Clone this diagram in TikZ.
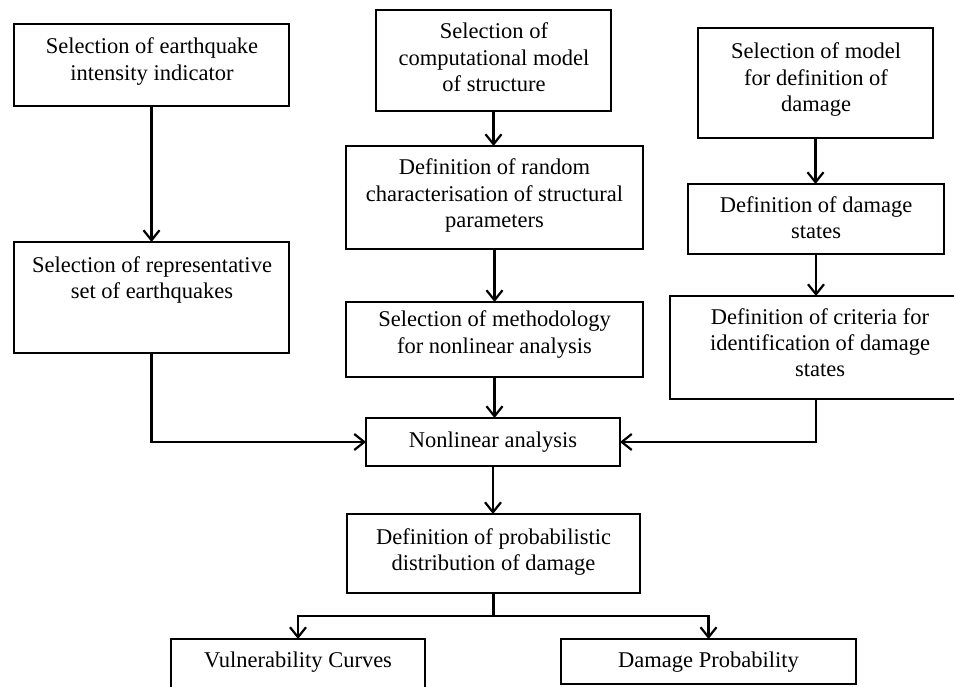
\documentclass[tikz,border=0pt]{standalone}
\usepackage{fontspec}
\setmainfont{Liberation Serif}
\usetikzlibrary{arrows.meta}
\tikzset{
  box/.style={draw, line width=2.2pt, outer sep=0pt, inner sep=0pt},
  txt/.style={align=center, anchor=base, inner sep=0pt, font=\fontsize{22.5}{26.5}\selectfont},
  arr/.style={line width=2.2pt, -{Straight Barb[length=10pt, width=16pt, line width=2.2pt]}},
  ln/.style={line width=2.2pt}
}
\begin{document}
\begin{tikzpicture}[x=1pt, y=-1pt]
\useasboundingbox (0,0) rectangle (954,687);
\clip (0,0) rectangle (954,687);
% boxes
\node[box, minimum width=275pt, minimum height=82pt]  (b1)  at (151.5,65) {};
\node[box, minimum width=235pt, minimum height=101pt] (b2)  at (493.5,60.5) {};
\node[box, minimum width=235pt, minimum height=110pt] (b3)  at (815.5,83) {};
\node[box, minimum width=297pt, minimum height=103pt] (b4)  at (494.5,197.5) {};
\node[box, minimum width=256pt, minimum height=70pt]  (b5)  at (816,219) {};
\node[box, minimum width=275pt, minimum height=111pt] (b6)  at (151.5,297.5) {};
\node[box, minimum width=297pt, minimum height=75pt]  (b7)  at (494.5,339.5) {};
\node[box, minimum width=300pt, minimum height=103pt] (b8)  at (820,347.5) {};
\node[box, minimum width=254pt, minimum height=48pt]  (nl)  at (493,442) {};
\node[box, minimum width=293pt, minimum height=79pt]  (b10) at (493.5,553.5) {};
\node[box, minimum width=254pt, minimum height=61pt]  (b11) at (298,669.5) {};
\node[box, minimum width=295pt, minimum height=45pt]  (b12) at (708.5,661.5) {};
% texts (anchor = baseline of the last line)
\node[txt] (t1)  at (152,80.5)   {Selection of earthquake\\intensity indicator};
\node[txt] (t2)  at (494,92)     {Selection of\\computational model\\of structure};
\node[txt] (t3)  at (816,112)    {Selection of model\\for definition of\\damage};
\node[txt] (t4)  at (494.5,228)  {Definition of random\\characterisation of structural\\parameters};
\node[txt] (t5)  at (816,239)    {Definition of damage\\states};
\node[txt] (t6)  at (152,299)    {Selection of representative\\set of earthquakes};
\node[txt] (t7)  at (494.5,353)  {Selection of methodology\\for nonlinear analysis};
\node[txt] (t8)  at (820,377)    {Definition of criteria for\\identification of damage\\states};
\node[txt] (t9)  at (493,447)    {Nonlinear analysis};
\node[txt] (t10) at (493.5,570.5){Definition of probabilistic\\distribution of damage};
\node[txt] (t11) at (298,667)    {Vulnerability Curves};
\node[txt] (t12) at (708.5,667)  {Damage Probability};
% connectors
\draw[arr] (b1.south) -- (b6.north);
\draw[arr] (b2.south) -- (b2.south |- b4.north);
\draw[arr] (b4.south) -- (b7.north);
\draw[arr] (b7.south) -- (b7.south |- nl.north);
\draw[arr] (b3.south) -- (b3.south |- b5.north);
\draw[arr] (b5.south) -- (b5.south |- b8.north);
\draw[arr] (b5.south |- b8.south) |- (nl.east);
\draw[arr] (b6.south) |- (nl.west);
\draw[arr] (nl.south) -- (nl.south |- b10.north);
\draw[ln] (b10.south) -- ++(0,23) coordinate (sp);
\draw[arr] (sp) -| (b11.north);
\draw[arr] (sp) -| (b12.north);
\end{tikzpicture}
\end{document}
